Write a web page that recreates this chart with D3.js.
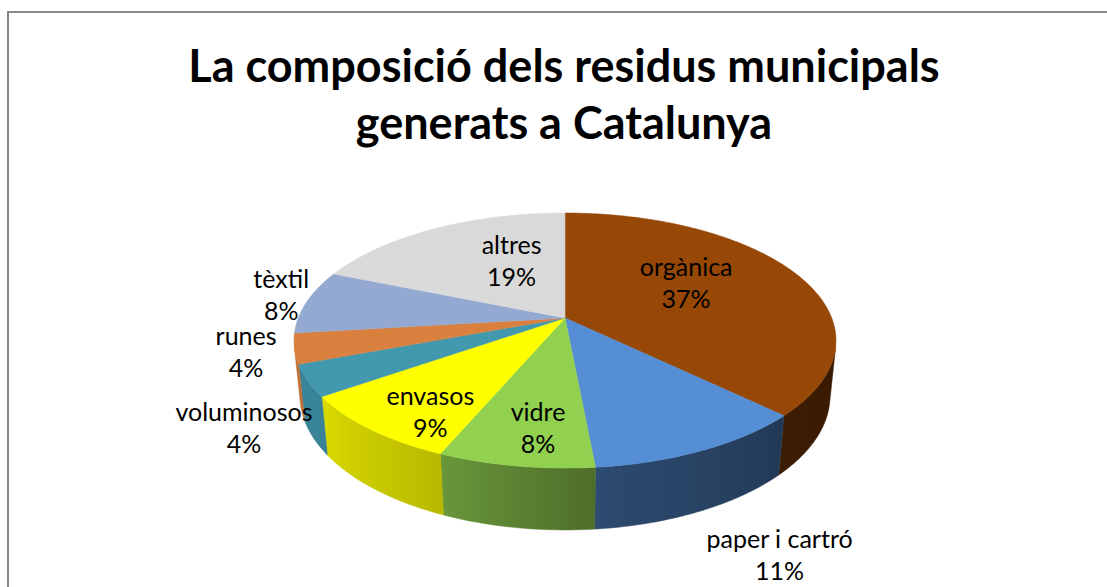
<!DOCTYPE html>
<html>
<head>
<meta charset="utf-8">
<script src="https://cdn.jsdelivr.net/npm/d3@7"></script>
<style>
  html, body { margin: 0; padding: 0; background: #fff; }
  svg { display: block; }
</style>
</head>
<body>
<svg id="chart"></svg>
<script>
// dades del gràfic
const categories = ["orgànica", "paper i cartró", "vidre", "envasos", "voluminosos", "runes", "tèxtil", "altres"];
const values = [37.2, 11.3, 7.9, 8.9, 4.0, 3.8, 8.1, 18.8];
const colors = ["#974706", "#558ed5", "#92d050", "#ffff00", "#4298af", "#d9803e", "#94a9d2", "#d9d9d9"];
const titleLines = ["La composició dels residus municipals", "generats a Catalunya"];

// col·locació de les etiquetes (radi relatiu i gir en graus respecte al centre del sector)
const labelRadius = [0.57, 1.55, 0.77, 0.80, 1.29, 1.17, 1.12, 0.56];
const labelTurn = [-9.8, 2.9, -2.3, -5.2, -8.4, 1.0, 2.6, 10.9];

const width = 1107, height = 587;

// perspectiva del pastís 3D
const cx = 565, cy = 318;       // centre projectat
const focal = 1339;             // distància focal
const dist = 5.02;              // distància càmera
const tilt = 27.6 * Math.PI / 180;
const thick = 0.235;            // gruix del pastís
const sinT = Math.sin(tilt), cosT = Math.cos(tilt);

function project(theta, r, h) {
  const X = r * Math.sin(theta), Z = -r * Math.cos(theta);
  const depth = dist - h * sinT - Z * cosT;
  const up = h * cosT - Z * sinT;
  return [cx + focal * X / depth, cy - focal * up / depth];
}

const svg = d3.select("#chart")
  .attr("width", width)
  .attr("height", height)
  .attr("viewBox", [0, 0, width, height]);

const defs = svg.append("defs");

// marc de l'àrea del gràfic
svg.append("rect")
  .attr("x", 8).attr("y", 12)
  .attr("width", width + 20).attr("height", height + 20)
  .attr("fill", "#fff")
  .attr("stroke", "#888")
  .attr("stroke-width", 2);

const pie = d3.pie().sort(null).value(d => d)(values);
const total = d3.sum(values);
const pct = d3.format(".0%");

// ombrejat del lateral segons l'angle
const shade = d3.scaleLinear()
  .domain([103, 133, 175, 204, 236, 257])
  .range([0.38, 0.40, 0.53, 0.73, 0.86, 0.88])
  .clamp(true);

const visMin = Math.acos(-1 / (dist * cosT));
const visMax = 2 * Math.PI - visMin;
const step = Math.PI / 360;
const line = d3.line();

function arcPoints(a0, a1, r, h) {
  const n = Math.max(2, Math.ceil((a1 - a0) / step));
  return d3.range(n + 1).map(j => project(a0 + (a1 - a0) * j / n, r, h));
}

// laterals amb degradat
const sides = svg.append("g");
pie.forEach((p, i) => {
  const a0 = Math.max(p.startAngle, visMin), a1 = Math.min(p.endAngle, visMax);
  if (a1 <= a0) return;
  const base = d3.rgb(colors[i]);
  const top = arcPoints(a0, a1, 1, 0);
  const bottom = arcPoints(a0, a1, 1, -thick).reverse();
  const xs = top.concat(bottom).map(d => d[0]);
  const x0 = d3.min(xs), x1 = d3.max(xs);
  const grad = defs.append("linearGradient")
    .attr("id", "side" + i)
    .attr("gradientUnits", "userSpaceOnUse")
    .attr("x1", x0).attr("x2", x1).attr("y1", 0).attr("y2", 0);
  const ns = 12;
  const stops = d3.range(ns + 1).map(j => {
    const t = a0 + (a1 - a0) * j / ns;
    const m = shade(t * 180 / Math.PI);
    return { x: project(t, 1, 0)[0], c: d3.rgb(base.r * m, base.g * m, base.b * m).toString() };
  }).sort((a, b) => a.x - b.x);
  grad.selectAll("stop")
    .data(stops)
    .join("stop")
      .attr("offset", d => x1 > x0 ? (d.x - x0) / (x1 - x0) : 0)
      .attr("stop-color", d => d.c);
  sides.append("path")
    .attr("d", line(top.concat(bottom)) + "Z")
    .attr("fill", `url(#side${i})`)
    .attr("stroke", `url(#side${i})`)
    .attr("stroke-width", 0.5);
});

// cara superior
svg.append("g")
  .selectAll("path")
  .data(pie)
  .join("path")
    .attr("fill", (d, i) => colors[i])
    .attr("stroke", (d, i) => colors[i])
    .attr("stroke-width", 0.5)
    .attr("d", d => line([project(0, 0, 0)].concat(arcPoints(d.startAngle, d.endAngle, 1, 0))) + "Z");

// etiquetes
const labels = svg.append("g")
  .attr("font-family", "Lato, 'Noto Sans', sans-serif")
  .attr("font-size", 25)
  .attr("fill", "#000")
  .attr("text-anchor", "middle")
  .selectAll("text")
  .data(pie)
  .join("text")
    .attr("transform", (d, i) => {
      const mid = (d.startAngle + d.endAngle) / 2 + labelTurn[i] * Math.PI / 180;
      const [x, y] = project(mid, labelRadius[i], 0);
      return `translate(${x},${y})`;
    });
labels.append("tspan").attr("x", 0).attr("y", -16).attr("dominant-baseline", "central")
  .text((d, i) => categories[i]);
labels.append("tspan").attr("x", 0).attr("y", 16).attr("dominant-baseline", "central")
  .text(d => pct(d.value / total));

// títol
svg.append("g")
  .attr("font-family", "Lato, 'Noto Sans', sans-serif")
  .attr("font-weight", "bold")
  .attr("font-size", 45)
  .attr("text-anchor", "middle")
  .selectAll("text")
  .data(titleLines)
  .join("text")
    .attr("x", 564)
    .attr("y", (d, i) => 82 + i * 57)
    .text(d => d);
</script>
</body>
</html>
